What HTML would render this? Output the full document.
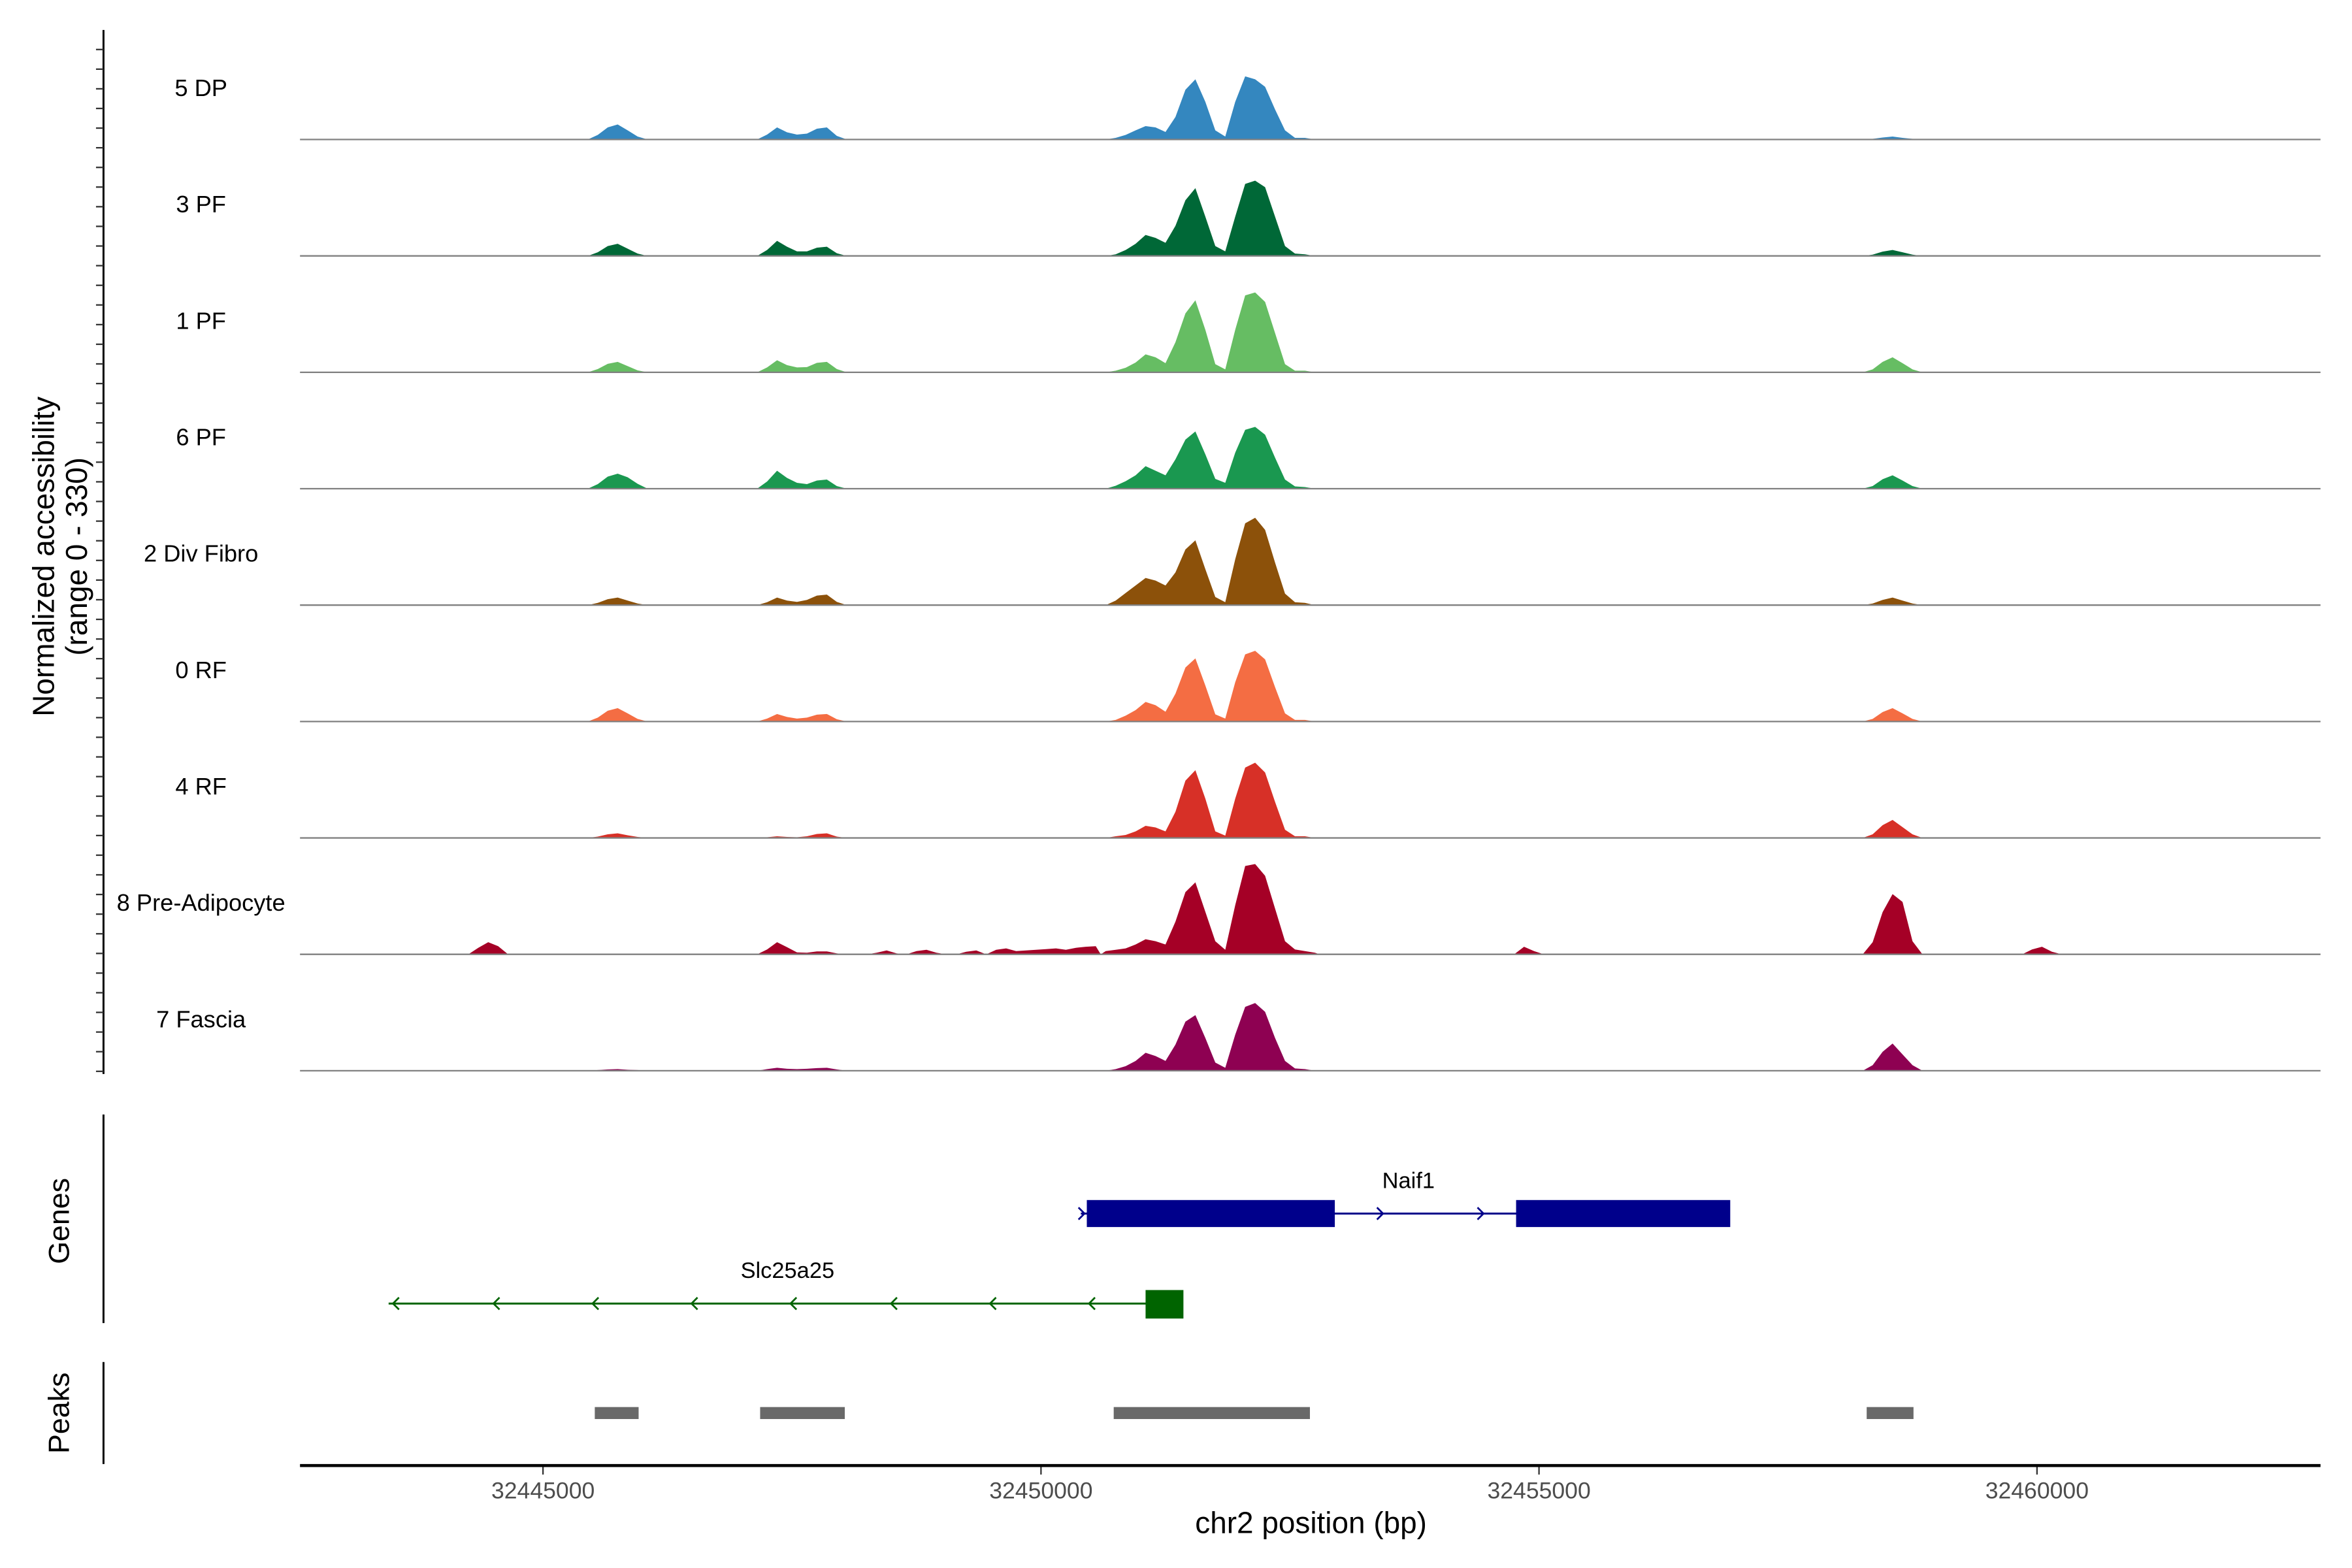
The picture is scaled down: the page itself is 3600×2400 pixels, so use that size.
<!DOCTYPE html>
<html><head><meta charset="utf-8"><style>
html,body{margin:0;padding:0;background:#fff;}
svg{display:block;}
text{font-family:"Liberation Sans",Arial,sans-serif;}
</style></head><body>
<svg id="chart" width="3600" height="2400" viewBox="0 0 1568 1045.3" preserveAspectRatio="none" xmlns="http://www.w3.org/2000/svg">
<rect width="1568" height="1046" fill="#fff"/>
<g id="tracks"></g>
<line x1="69" y1="20" x2="69" y2="716" stroke="#000" stroke-width="1.3"/>
<g id="yticks"></g>
<text transform="translate(36,371) rotate(-90)" text-anchor="middle" font-size="20">Normalized accessibility</text>
<text transform="translate(58,371) rotate(-90)" text-anchor="middle" font-size="20">(range 0 - 330)</text>
<line x1="69" y1="743" x2="69" y2="882" stroke="#000" stroke-width="1.3"/>
<text transform="translate(46,814) rotate(-90)" text-anchor="middle" font-size="19.5">Genes</text>
<line x1="69" y1="908" x2="69" y2="976" stroke="#000" stroke-width="1.3"/>
<text transform="translate(46,942) rotate(-90)" text-anchor="middle" font-size="19.5">Peaks</text>
<g id="genes"></g>
<g id="peaks"></g>
<line x1="200" y1="977" x2="1547" y2="977" stroke="#000" stroke-width="2"/>
<g id="xticks"></g>
<text x="874" y="1022" text-anchor="middle" font-size="20">chr2 position (bp)</text>
</svg>
<script>
const trackNames = ["5 DP","3 PF","1 PF","6 PF","2 Div Fibro","0 RF","4 RF","8 Pre-Adipocyte","7 Fascia"];
const trackColors = ["#3487bf","#006837","#66bd63","#1a9850","#8c510a","#f46d43","#d73027","#a50026","#8e0152"];
const segmentStarts = [32445400, 32447100, 32450600, 32458200, 32444200, 32454700, 32459800, 32448200];
const binSize = 100;
const valDP = [[0,14,37,46,28,9,0],[0,15,37,22,15,18,33,37,11,0],[0,5,14,28,41,37,23,69,152,184,115,28,9,115,193,184,161,92,28,5,5,0],[0,2,6,9,5,2,0],[],[],[],[]];
const val3PF = [[0,11,30,37,22,7,0],[0,18,46,28,14,14,25,28,8,0],[0,5,18,37,64,55,40,92,170,207,120,30,14,120,220,230,210,120,30,7,5,0],[0,4,13,18,11,4,0],[],[],[],[]];
const val1PF = [[0,10,26,32,19,6,0],[0,15,37,22,15,16,29,32,10,0],[0,5,14,30,55,46,28,92,180,220,130,25,9,130,235,244,215,120,25,5,5,0],[0,9,32,46,28,9,0],[],[],[],[]];
const val6PF = [[0,14,37,46,35,15,0],[0,22,55,33,18,14,25,28,8,0],[0,9,23,41,69,55,41,90,150,175,105,30,18,110,180,189,165,95,28,7,5,0],[0,8,29,41,25,8,0],[],[],[],[]];
const valDiv = [[0,7,18,23,14,5,0],[0,9,23,14,10,16,29,32,10,0],[0,14,37,60,83,75,60,100,170,198,110,25,9,140,250,267,230,130,35,9,7,0],[0,5,16,23,14,5,0],[],[],[],[]];
const val0RF = [[0,12,33,41,25,8,0],[0,9,23,14,9,12,21,23,7,0],[0,5,18,35,60,50,30,85,165,193,110,22,9,120,205,216,190,105,25,5,5,0],[0,8,29,41,25,8,0],[],[],[],[]];
const val4RF = [[0,4,11,14,8,3,0],[0,2,5,3,2,5,12,14,4,0],[0,5,9,20,37,32,20,80,175,207,120,20,7,120,215,230,200,110,25,5,5,0],[0,11,39,55,33,11,0],[],[],[],[]];
const valPA = [[0,0,2,2,0,0,0],[0,15,37,22,6,5,9,9,3,0],[10,14,18,30,46,40,30,100,190,220,130,40,14,150,270,276,240,140,40,15,10,5],[0,37,129,184,160,40,0],[0,20,37,25,0],[0,23,10,0],[0,15,23,8,0],[0,5,12,3,0,10,14,5,0,0,8,12,0,14,18,10,12,14,16,18,14,20,23,25]];
const valFascia = [[0,2,4,5,3,2,0],[0,5,9,6,5,6,8,9,4,0],[0,5,14,30,55,45,30,80,150,170,100,25,9,110,195,207,180,100,30,7,5,0],[0,17,58,83,50,17,0],[],[],[],[]];
const trackValues = [valDP,val3PF,val1PF,val6PF,valDiv,val0RF,val4RF,valPA,valFascia];
const xTicks = [32445000, 32450000, 32455000, 32460000];
const yMax = 330;
const geneNames = ["Naif1","Slc25a25"];
const geneStarts = [32450400, 32443450];
const geneEnds = [32456900, 32451400];
const naifExonStarts = [32450460, 32454770];
const naifExonEnds = [32452950, 32456920];
const slcExonStarts = [32451050];
const slcExonEnds = [32451430];
const peakStarts = [32445520, 32447180, 32450730, 32458290];
const peakEnds = [32445960, 32448030, 32452700, 32458760];

const NS = "http://www.w3.org/2000/svg";
const xScale = bp => 362 + (bp - 32445000) * 332 / 5000;
const baselineOf = i => 93 + i * 77.6;
const hScale = v => v * 72 / yMax;
function mk(tag, attrs, parent){const e=document.createElementNS(NS,tag);for(const k in attrs)e.setAttribute(k,attrs[k]);parent.appendChild(e);return e;}

const tg = document.getElementById("tracks");
trackNames.forEach((name, i) => {
  const base = baselineOf(i);
  const g = mk("g", {}, tg);
  
  
  trackValues[i].forEach((vals, s) => {
    if (!vals.length) return;
    let d = "M" + xScale(segmentStarts[s]).toFixed(2) + "," + base;
    vals.forEach((v, k) => {
      const x = xScale(segmentStarts[s] + (k + 0.5) * binSize);
      d += " L" + x.toFixed(2) + "," + (base - hScale(v)).toFixed(2);
    });
    d += " L" + xScale(segmentStarts[s] + vals.length * binSize).toFixed(2) + "," + base + " Z";
    const p = mk("path", {d: d, fill: trackColors[i]}, g);
    
    
  });
  const l = mk("line", {x1:200, x2:1547, y1:base, y2:base, stroke:"#808080", "stroke-width":1}, g);
  
  
  const t = mk("text", {x:134, y:base - 29, "text-anchor":"middle", "font-size":15.8}, g);
  
  
  t.textContent = name;
});

const yt = document.getElementById("yticks");
for (let y = 33; y <= 716; y += 13.1) {
  const l = mk("line", {x1:64, x2:69, y1:y.toFixed(1), y2:y.toFixed(1), stroke:"#333", "stroke-width":1}, yt);
  
  
}

const xt = document.getElementById("xticks");
xTicks.forEach(v => {
  const x = xScale(v);
  const l = mk("line", {x1:x, x2:x, y1:978, y2:983, stroke:"#333", "stroke-width":1}, xt);
  
  
  const t = mk("text", {x:x, y:999, "text-anchor":"middle", "font-size":15.5, fill:"#4d4d4d"}, xt);
  
  
  t.textContent = v;
});

const gg = document.getElementById("genes");
{
  const y = 809, col = "#00008b";
  const l = mk("line", {x1:xScale(geneStarts[0]), x2:xScale(geneEnds[0]), y1:y, y2:y, stroke:col, "stroke-width":1.3}, gg);
  
  
  naifExonStarts.forEach((s, k) => {
    const r = mk("rect", {x:xScale(s), y:800, width:xScale(naifExonEnds[k]) - xScale(s), height:18, fill:col}, gg);
    
    
  });
  [722, 921, 988].forEach(ax => {
    const a = mk("polyline", {points:`${ax-3},${y-4} ${ax+1},${y} ${ax-3},${y+4}`, fill:"none", stroke:col, "stroke-width":1.2}, gg);
    
    
  });
  const t = mk("text", {x:939, y:792, "text-anchor":"middle", "font-size":15}, gg);
  
  
  t.textContent = geneNames[0];
}
{
  const y = 869, col = "#006400";
  const l = mk("line", {x1:xScale(geneStarts[1]), x2:xScale(geneEnds[1]), y1:y, y2:y, stroke:col, "stroke-width":1.3}, gg);
  
  
  slcExonStarts.forEach((s, k) => {
    const r = mk("rect", {x:xScale(s), y:860, width:xScale(slcExonEnds[k]) - xScale(s), height:19, fill:col}, gg);
    
    
  });
  [263,330,396,462,528,595,661,727].forEach(ax => {
    const a = mk("polyline", {points:`${ax+3},${y-4} ${ax-1},${y} ${ax+3},${y+4}`, fill:"none", stroke:col, "stroke-width":1.2}, gg);
    
    
  });
  const t = mk("text", {x:525, y:852, "text-anchor":"middle", "font-size":15}, gg);
  
  
  t.textContent = geneNames[1];
}

const pg = document.getElementById("peaks");
peakStarts.forEach((s, k) => {
  const r = mk("rect", {x:xScale(s), y:938, width:xScale(peakEnds[k]) - xScale(s), height:8, fill:"#696969"}, pg);
  
  
});
</script>
</body></html>
